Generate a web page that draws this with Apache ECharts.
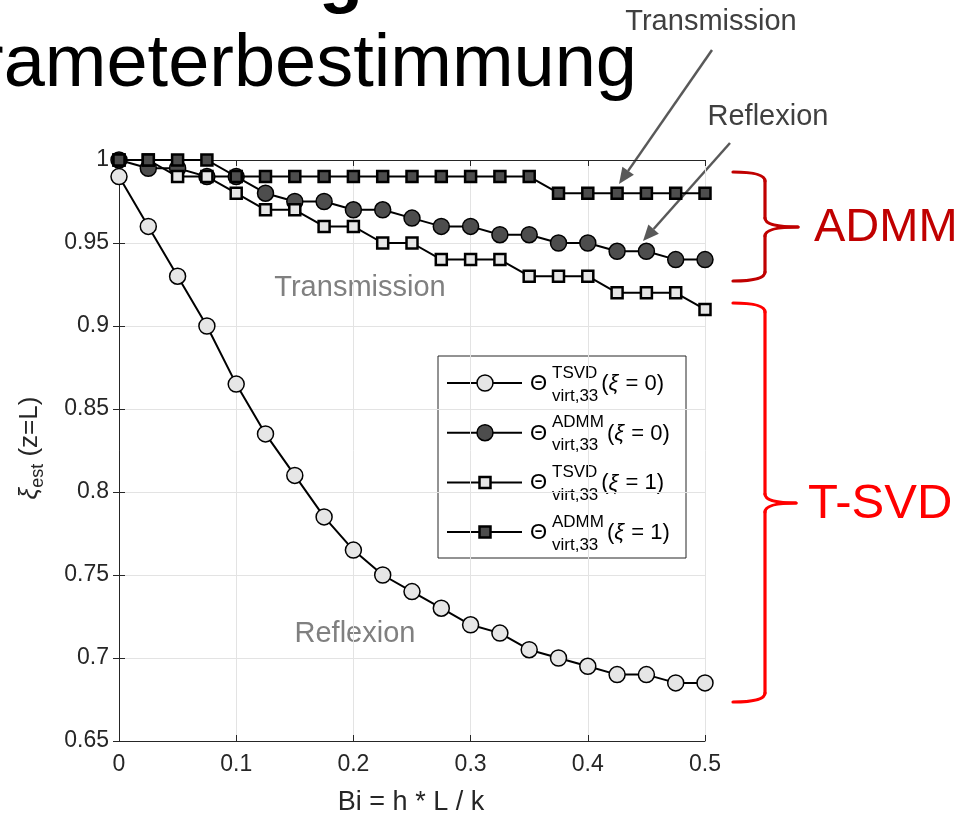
<!DOCTYPE html>
<html>
<head>
<meta charset="utf-8">
<script src="https://cdn.jsdelivr.net/npm/echarts@6/dist/echarts.min.js"></script>
<style>
  html, body { margin: 0; padding: 0; background: #fff; }
  #chart { width: 961px; height: 816px; }
</style>
</head>
<body>
<div id="chart"></div>
<script>
// Biot number samples
const biValues = [0, 0.025, 0.05, 0.075, 0.1, 0.125, 0.15, 0.175, 0.2, 0.225, 0.25,
                  0.275, 0.3, 0.325, 0.35, 0.375, 0.4, 0.425, 0.45, 0.475, 0.5];

// Estimated xi(z=L) per method and true xi
const tsvdXi0 = [0.99, 0.96, 0.93, 0.90, 0.865, 0.835, 0.81, 0.785, 0.765, 0.75, 0.74,
                 0.73, 0.72, 0.715, 0.705, 0.70, 0.695, 0.69, 0.69, 0.685, 0.685];
const admmXi0 = [1.0, 0.995, 0.995, 0.99, 0.99, 0.98, 0.975, 0.975, 0.97, 0.97, 0.965,
                 0.96, 0.96, 0.955, 0.955, 0.95, 0.95, 0.945, 0.945, 0.94, 0.94];
const tsvdXi1 = [1.0, 1.0, 0.99, 0.99, 0.98, 0.97, 0.97, 0.96, 0.96, 0.95, 0.95,
                 0.94, 0.94, 0.94, 0.93, 0.93, 0.93, 0.92, 0.92, 0.92, 0.91];
const admmXi1 = [1.0, 1.0, 1.0, 1.0, 0.99, 0.99, 0.99, 0.99, 0.99, 0.99, 0.99,
                 0.99, 0.99, 0.99, 0.99, 0.98, 0.98, 0.98, 0.98, 0.98, 0.98];

// Legend entries: method superscript and xi value
const legendMethods = ['TSVD', 'ADMM', 'TSVD', 'ADMM'];
const legendXi = [0, 0, 1, 1];

const FONT = "'Liberation Sans', Arial, Helvetica, sans-serif";
const LIGHT = '#e6e6e6';
const DARK = '#4d4d4d';

const styles = [
  { symbol: 'circle', size: 16, fill: LIGHT, bw: 1.5 },
  { symbol: 'circle', size: 16, fill: DARK, bw: 1.5 },
  { symbol: 'rect', size: 11, fill: LIGHT, bw: 2.5 },
  { symbol: 'rect', size: 11, fill: DARK, bw: 2.5 }
];
const seriesValues = [tsvdXi0, admmXi0, tsvdXi1, admmXi1];

const chart = echarts.init(document.getElementById('chart'), null, { renderer: 'canvas' });

const measureCtx = document.createElement('canvas').getContext('2d');
function textWidth(str, size, weight) {
  measureCtx.font = (weight || 'normal') + ' ' + size + 'px ' + FONT;
  return measureCtx.measureText(str).width;
}

function txt(str, x, y, size, color, align, vAlign, weight, extra) {
  return Object.assign({
    type: 'text',
    silent: true,
    style: {
      text: str, x: x, y: y,
      font: (weight || 'normal') + ' ' + size + 'px ' + FONT,
      fill: color,
      textAlign: align || 'left', align: align || 'left',
      textVerticalAlign: vAlign || 'middle', verticalAlign: vAlign || 'middle'
    }
  }, extra || {});
}

function arrow(x1, y1, x2, y2, color) {
  const ang = Math.atan2(y2 - y1, x2 - x1);
  const len = 16, half = 7;
  const bx = x2 - len * Math.cos(ang), by = y2 - len * Math.sin(ang);
  const px = -Math.sin(ang) * half, py = Math.cos(ang) * half;
  return [
    { type: 'line', silent: true, shape: { x1: x1, y1: y1, x2: bx, y2: by },
      style: { stroke: color, lineWidth: 2.5 } },
    { type: 'polygon', silent: true,
      shape: { points: [[x2, y2], [bx + px, by + py], [bx - px, by - py]] },
      style: { fill: color } }
  ];
}

// Curly brace built from straight and quadratic segments
function brace(xl, xv, xt, yTop, yMid, yBot, color) {
  const r = 9;
  const st = { stroke: color, lineWidth: 3.2, fill: null, lineCap: 'round' };
  function curve(x1, y1, cx, cy, x2, y2) {
    return { type: 'bezierCurve', silent: true,
             shape: { x1: x1, y1: y1, cpx1: cx, cpy1: cy, x2: x2, y2: y2 }, style: st };
  }
  function seg(x1, y1, x2, y2) {
    return { type: 'line', silent: true, shape: { x1: x1, y1: y1, x2: x2, y2: y2 }, style: st };
  }
  return [
    curve(xl, yTop, xv, yTop, xv, yTop + r),
    seg(xv, yTop + r, xv, yMid - r),
    curve(xv, yMid - r, xv, yMid, xt, yMid),
    curve(xt, yMid, xv, yMid, xv, yMid + r),
    seg(xv, yMid + r, xv, yBot - r),
    curve(xv, yBot - r, xv, yBot, xl, yBot)
  ];
}

// Legend box drawn as graphic elements (stacked super/subscripts)
function legendGraphics() {
  const els = [];
  const bx = 438, by = 356, bw = 248, bh = 202;
  els.push({ type: 'rect', silent: true, shape: { x: bx, y: by, width: bw, height: bh },
             style: { fill: '#fff', stroke: '#262626', lineWidth: 1 } });
  for (let i = 0; i < legendMethods.length; i++) {
    const cy = 383 + i * 49.7;
    const s = styles[i];
    els.push({ type: 'line', silent: true, shape: { x1: 447, y1: cy, x2: 522, y2: cy },
               style: { stroke: '#000', lineWidth: 2 } });
    if (s.symbol === 'circle') {
      els.push({ type: 'circle', silent: true, shape: { cx: 485, cy: cy, r: s.size / 2 },
                 style: { fill: s.fill, stroke: '#000', lineWidth: s.bw } });
    } else {
      els.push({ type: 'rect', silent: true,
                 shape: { x: 485 - s.size / 2, y: cy - s.size / 2, width: s.size, height: s.size },
                 style: { fill: s.fill, stroke: '#000', lineWidth: s.bw } });
    }
    els.push(txt('\u0398', 530, cy + 1, 22, '#000'));
    const supX = 552;
    els.push(txt(legendMethods[i], supX, cy - 10, 17, '#000'));
    els.push(txt('virt,33', supX, cy + 13, 17, '#000'));
    const w = Math.max(textWidth(legendMethods[i], 17), textWidth('virt,33', 17));
    const px = supX + w + 3;
    els.push(txt('(', px, cy + 1, 22, '#000'));
    const wp = textWidth('(', 22);
    els.push(txt('\u03BE', px + wp, cy + 1, 22, '#000', 'left', 'middle', 'italic'));
    const wx = textWidth('\u03BE', 22, 'italic');
    els.push(txt(' = ' + legendXi[i] + ')', px + wp + wx + 1, cy + 1, 22, '#000'));
  }
  return els;
}

function yNameGroup() {
  const s1 = 26, s2 = 18;
  const w1 = textWidth('\u03BE', s1, 'italic'), w2 = textWidth('est', s2), w3 = textWidth(' (z=L)', s1);
  const total = w1 + w2 + w3;
  const x0 = -total / 2;
  return {
    type: 'group', x: 30, y: 448, rotation: Math.PI / 2, silent: true,
    children: [
      txt('\u03BE', x0, 0, s1, '#262626', 'left', 'middle', 'italic'),
      txt('est', x0 + w1, 8, s2, '#262626'),
      txt(' (z=L)', x0 + w1 + w2, 0, s1, '#262626')
    ]
  };
}

const axisCommon = {
  type: 'value',
  axisLine: { show: true, lineStyle: { color: '#262626', width: 1 } },
  axisTick: { show: true, inside: true, length: 6, lineStyle: { color: '#262626' } }
};

const option = {
  animation: false,
  backgroundColor: '#fff',
  grid: { left: 119, right: 256, top: 160, bottom: 75, containLabel: false },
  xAxis: [
    Object.assign({}, axisCommon, {
      min: 0, max: 0.5, interval: 0.1, position: 'bottom',
      axisLabel: { fontSize: 23, color: '#262626', fontFamily: FONT, margin: 12 },
      splitLine: { show: true, lineStyle: { color: '#e3e3e3', width: 1 } }
    }),
    Object.assign({}, axisCommon, {
      min: 0, max: 0.5, interval: 0.1, position: 'top',
      axisLabel: { show: false }, splitLine: { show: false }
    })
  ],
  yAxis: [
    Object.assign({}, axisCommon, {
      min: 0.65, max: 1, interval: 0.05, position: 'left',
      axisLabel: { fontSize: 23, color: '#262626', fontFamily: FONT, margin: 10 },
      splitLine: { show: true, lineStyle: { color: '#e3e3e3', width: 1 } }
    }),
    Object.assign({}, axisCommon, {
      min: 0.65, max: 1, interval: 0.05, position: 'right',
      axisLabel: { show: false }, splitLine: { show: false }
    })
  ],
  series: seriesValues.map(function (vals, k) {
    const s = styles[k];
    return {
      type: 'line',
      xAxisIndex: 0, yAxisIndex: 0,
      data: biValues.map(function (b, i) { return [b, vals[i]]; }),
      symbol: s.symbol,
      symbolSize: s.size,
      showAllSymbol: true,
      lineStyle: { color: '#000', width: 2 },
      itemStyle: { color: s.fill, borderColor: '#000', borderWidth: s.bw, opacity: 1 },
      z: 2 + k
    };
  }),
  graphic: [].concat(
    [
      txt('Voruntersuchungen', 447, -21, 72, '#000', 'right', 'middle', 'bold'),
      txt('Parameterbestimmung', 637, 66, 74, '#000', 'right', 'middle'),
      txt('Transmission', 711, 22, 29, '#404040', 'center'),
      txt('Reflexion', 768, 117, 29, '#404040', 'center'),
      txt('Transmission', 360, 288, 29, '#808080', 'center'),
      txt('Reflexion', 355, 634, 29, '#808080', 'center'),
      txt('Bi = h * L / k', 411, 803, 27, '#262626', 'center'),
      yNameGroup(),
      txt('ADMM', 814, 228, 47, '#c00000'),
      txt('T-SVD', 808, 504, 49, '#ff0000')
    ],
    brace(733, 765, 798, 172, 227, 281, '#c00000'),
    brace(733, 765, 796, 303, 503, 702, '#ff0000'),
    arrow(712, 50, 619, 184, '#595959'),
    arrow(730, 143, 643, 241, '#595959'),
    legendGraphics()
  )
};

chart.setOption(option);
</script>
</body>
</html>
